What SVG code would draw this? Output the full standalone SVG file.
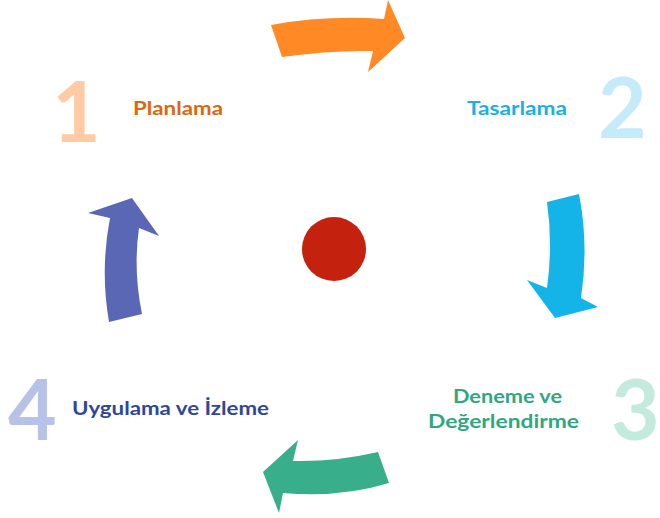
<svg xmlns="http://www.w3.org/2000/svg" width="660" height="518" viewBox="0 0 660 518">
<style>
.num{font-family:Lato,"Open Sans","Liberation Sans",sans-serif;font-size:84px;font-weight:700}
.lbl{font-family:Lato,"Open Sans","Liberation Sans",sans-serif;font-size:19px;font-weight:700}
</style>
<rect width="660" height="518" fill="#ffffff"/>
<g id="connectors">
<path d="M271,25 Q325,15 384,19 L388,0 L405,38 L368,72 L373,51 Q330,50 282,57 Z" fill="#FF8A25"/>
<path d="M547,202 L579,194 Q589,245 581,298 L598,307 L555,318 L527,280 L547,288 Q553,245 547,202 Z" fill="#14B4E8"/>
<path d="M378,452 L389,483 Q340,498 283,493 L279,513 L263,472 L298,440 L293,461 Q335,462 378,452 Z" fill="#38AE8A"/>
<path d="M109,322 L142,314 Q133,270 139,228 L159,236 L132,198 L88,213 L110,218 Q100,270 109,322 Z" fill="#5A67B5"/>
</g>
<g id="center">
<circle cx="334" cy="249" r="32" fill="#C4210E"/>
</g>
<g id="step1">
<text class="num" x="52" y="142" fill="#FFCBA4">1</text>
<text class="lbl" x="133" y="115" fill="#E0650F" textLength="90" lengthAdjust="spacingAndGlyphs">Planlama</text>
</g>
<g id="step2">
<text class="num" x="598" y="138" fill="#C5EAF9">2</text>
<text class="lbl" x="467" y="115" fill="#1AB0E6" textLength="100" lengthAdjust="spacingAndGlyphs">Tasarlama</text>
</g>
<g id="step3">
<text class="num" x="611" y="440" fill="#C3EBDD">3</text>
<text class="lbl" x="453" y="403" fill="#2FA880" textLength="109" lengthAdjust="spacingAndGlyphs">Deneme ve</text>
<text class="lbl" x="428" y="428" fill="#2FA880" textLength="151" lengthAdjust="spacingAndGlyphs">Değerlendirme</text>
</g>
<g id="step4">
<text class="num" x="8" y="440" fill="#B8C2E6">4</text>
<text class="lbl" x="72" y="415" fill="#2E479B" textLength="197" lengthAdjust="spacingAndGlyphs">Uygulama ve İzleme</text>
</g>
</svg>
